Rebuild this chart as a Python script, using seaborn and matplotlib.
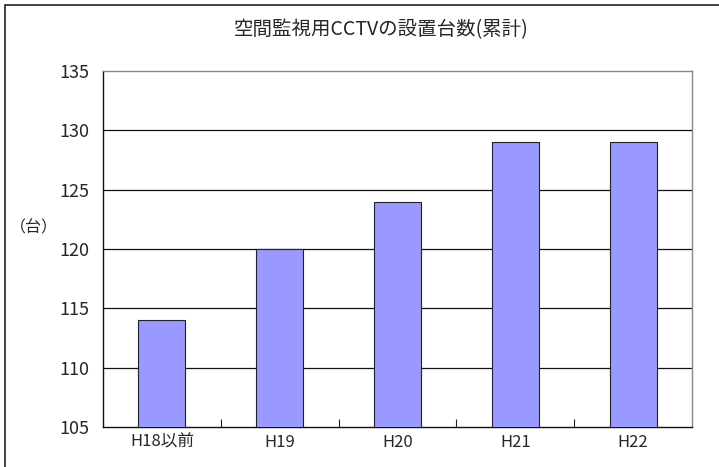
import matplotlib
matplotlib.use("Agg")
import matplotlib.pyplot as plt
from matplotlib.patches import Rectangle
import seaborn as sns
import pandas as pd

categories = ["H18以前", "H19", "H20", "H21", "H22"]
counts = [114, 120, 124, 129, 129]
y_ticks = [105, 110, 115, 120, 125, 130, 135]
title = "空間監視用CCTVの設置台数(累計)"
y_label = "（台）"

sns.set_theme(style="white")
plt.rcParams["font.family"] = ["Noto Sans CJK JP", "DejaVu Sans"]

df = pd.DataFrame({"year": categories, "count": counts})

fig = plt.figure(figsize=(7.19, 4.67), dpi=100)
ax = fig.add_axes([103 / 719, 1 - 427 / 467, (692 - 103) / 719, (427 - 71) / 467])

# outer chart frame
fig.patches.append(Rectangle((5 / 719, -0.05), 1.2, 1 - 5 / 467 + 0.05,
                             transform=fig.transFigure, fill=False,
                             edgecolor="#222222", linewidth=1.2))

sns.barplot(data=df, x="year", y="count", ax=ax, color="#9999FF",
            width=0.4, edgecolor="#222222", linewidth=0.8, saturation=1,
            zorder=3)

ax.set_ylim(105, 135)
ax.set_xlim(-0.5, len(categories) - 0.5)
ax.set_yticks(y_ticks)
ax.set_yticklabels([str(v) for v in y_ticks], fontsize=13)
ax.tick_params(axis="y", length=0, pad=10)
ax.tick_params(axis="x", length=0, pad=5, labelsize=12)

# category separator ticks on the baseline
ax.set_xticks([i + 0.5 for i in range(len(categories) - 1)], minor=True)
ax.tick_params(axis="x", which="minor", direction="in", length=6,
               width=0.8, color="#222222", bottom=True)

for v in y_ticks[1:-1]:
    ax.axhline(v, color="#111111", linewidth=0.9, zorder=1)

ax.set_xlabel("")
ax.set_ylabel("")
for side in ["left", "bottom"]:
    ax.spines[side].set_color("#111111")
    ax.spines[side].set_linewidth(1.0)
for side in ["top", "right"]:
    ax.spines[side].set_visible(True)
    ax.spines[side].set_color("#888888")
    ax.spines[side].set_linewidth(1.0)

fig.text(34 / 719, 1 - 228 / 467, y_label, ha="center", va="center", fontsize=11.5)
fig.text(381 / 719, 1 - 30 / 467, title, ha="center", va="center", fontsize=14)

fig.savefig("out.png", dpi=100, facecolor="white")
